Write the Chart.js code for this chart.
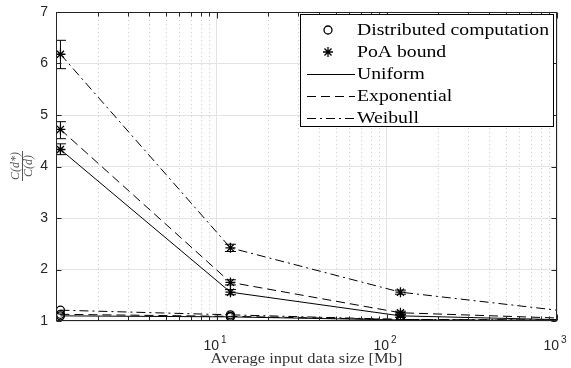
<!DOCTYPE html>
<html lang="sv">
<head>
<meta charset="utf-8">
<title>PoA-diagram</title>
<script src="https://cdn.jsdelivr.net/npm/chart.js@4.4.1/dist/chart.umd.min.js"></script>
<style>
  html, body { margin: 0; padding: 0; background: #fff; }
  #ruta { width: 571px; height: 368px; }
</style>
</head>
<body>
<div id="ruta"><canvas id="mittDiagram" width="571" height="368"></canvas></div>
<script>
// Data (x = genomsnittlig indatastorlek i Mb)
const storlekar = [1.2, 12, 120, 1200];

// PoA-gräns (asterisker) för de tre fördelningarna
const poaUniform = [4.33, 1.56, 1.10, 1.02];
const poaExponentiell = [4.72, 1.75, 1.16, 1.05];
const poaWeibull = [6.18, 2.42, 1.56, 1.18];

// Felstaplar för PoA-gränsen [lägsta, högsta]
const felUniform = [[4.23, 4.44], [1.51, 1.61], [1.07, 1.13], [1.00, 1.04]];
const felExponentiell = [[4.54, 4.87], [1.70, 1.80], [1.13, 1.19], [1.03, 1.07]];
const felWeibull = [[5.90, 6.45], [2.35, 2.49], [1.52, 1.60], [1.15, 1.21]];

// Distribuerad beräkning (cirklar)
const distUniform = [1.10, 1.08, 1.02, 1.01];
const distExponentiell = [1.13, 1.09, 1.03, 1.01];
const distWeibull = [1.21, 1.12, 1.03, 1.02];

// Axlar
const yEtiketter = [1, 2, 3, 4, 5, 6, 7];
const xExponenter = [1, 2, 3];
const xMin = 1.13;
const xMax = 1000;

// Legendens texter
const legendTexter = ['Distributed computation', 'PoA bound', 'Uniform', 'Exponential', 'Weibull'];

// Skapar ett Namespace för diagrammet
const MittDiagram = {};

MittDiagram.streck = {
    uniform: [],
    exponentiell: [9, 5],
    weibull: [9, 4, 2, 4]
};

MittDiagram.serif = '"Liberation Serif", "Times New Roman", serif';
MittDiagram.sans = '"Liberation Sans", Arial, sans-serif';

// Bygger {x, y}-par av en värdelista
MittDiagram.par = function(varden) {
    return varden.map((v, i) => ({ x: storlekar[i], y: v }));
};

MittDiagram.serie = function(varden, streck, markor, radie, fel) {
    return {
        data: MittDiagram.par(varden),
        borderColor: '#000',
        backgroundColor: 'rgba(0,0,0,0)',
        pointBorderColor: '#000',
        pointBackgroundColor: 'rgba(0,0,0,0)',
        borderWidth: 1,
        borderDash: streck,
        pointStyle: markor,
        pointRadius: radie,
        pointBorderWidth: 1.3,
        fill: false,
        tension: 0,
        fel: fel
    };
};

MittDiagram.arTiopotens = function(v) {
    const l = Math.log10(v);
    return Math.abs(l - Math.round(l)) < 1e-9;
};

// Alla logaritmiska små-/stora steg inom intervallet
MittDiagram.logSteg = function() {
    const ut = [];
    for (let e = 0; e <= 3; e++) {
        for (let m = 1; m <= 9; m++) {
            const v = m * Math.pow(10, e);
            if (v >= xMin && v <= xMax) ut.push(v);
        }
    }
    return ut;
};

// Skriver text som sträcks horisontellt till en given bredd (LaTeX-typsnittet är bredare)
MittDiagram.breddText = function(ctx, text, x, y, bredd, justering) {
    const w = ctx.measureText(text).width;
    const s = bredd / w;
    ctx.save();
    ctx.translate(x, y);
    ctx.scale(s, 1);
    ctx.textAlign = justering;
    ctx.fillText(text, 0, 0);
    ctx.restore();
};

// Plugin: prickat stödnät för små steg på x-axeln
MittDiagram.smaNat = {
    id: 'smaNat',
    beforeDatasetsDraw(chart) {
        const { ctx, chartArea: a, scales: { x } } = chart;
        ctx.save();
        ctx.strokeStyle = '#cdcdcd';
        ctx.lineWidth = 1;
        ctx.setLineDash([1, 3]);
        MittDiagram.logSteg().forEach(v => {
            if (MittDiagram.arTiopotens(v)) return;
            const px = Math.round(x.getPixelForValue(v)) + 0.5;
            ctx.beginPath();
            ctx.moveTo(px, a.top);
            ctx.lineTo(px, a.bottom);
            ctx.stroke();
        });
        ctx.restore();
    }
};

// Plugin: felstaplar
MittDiagram.felstaplar = {
    id: 'felstaplar',
    afterDatasetsDraw(chart) {
        const { ctx, chartArea: a, scales: { x, y } } = chart;
        ctx.save();
        ctx.beginPath();
        ctx.rect(a.left, a.top, a.right - a.left, a.bottom - a.top);
        ctx.clip();
        ctx.strokeStyle = '#000';
        ctx.lineWidth = 1;
        chart.data.datasets.forEach(ds => {
            if (!ds.fel) return;
            ds.fel.forEach((f, i) => {
                const px = x.getPixelForValue(storlekar[i]);
                const y0 = y.getPixelForValue(f[0]);
                const y1 = y.getPixelForValue(f[1]);
                ctx.beginPath();
                ctx.moveTo(px, y0); ctx.lineTo(px, y1);
                ctx.moveTo(px - 5.5, y0); ctx.lineTo(px + 5.5, y0);
                ctx.moveTo(px - 5.5, y1); ctx.lineTo(px + 5.5, y1);
                ctx.stroke();
            });
        });
        ctx.restore();
    }
};

// Plugin: ram, inåtriktade streck, etiketter, axeltitlar och legend
MittDiagram.ram = {
    id: 'ram',
    afterDraw(chart) {
        const { ctx, chartArea: a, scales: { x, y } } = chart;
        ctx.save();
        ctx.strokeStyle = '#262626';
        ctx.lineWidth = 1;
        ctx.setLineDash([]);
        const L = Math.round(a.left) + 0.5, R = Math.round(a.right) - 0.5;
        const T = Math.round(a.top) + 0.5, B = Math.round(a.bottom) - 0.5;
        ctx.strokeRect(L, T, R - L, B - T);

        // x-streck (nedre och övre kant)
        ctx.beginPath();
        MittDiagram.logSteg().forEach(v => {
            const px = Math.round(x.getPixelForValue(v)) + 0.5;
            const len = MittDiagram.arTiopotens(v) ? 6 : 4;
            ctx.moveTo(px, B); ctx.lineTo(px, B - len);
            ctx.moveTo(px, T); ctx.lineTo(px, T + len);
        });
        // y-streck (vänster och höger kant)
        yEtiketter.forEach(v => {
            const py = Math.round(y.getPixelForValue(v)) + 0.5;
            ctx.moveTo(L, py); ctx.lineTo(L + 5, py);
            ctx.moveTo(R, py); ctx.lineTo(R - 5, py);
        });
        ctx.stroke();

        // y-etiketter
        ctx.fillStyle = '#262626';
        ctx.font = '14px ' + MittDiagram.sans;
        ctx.textAlign = 'right';
        ctx.textBaseline = 'middle';
        yEtiketter.forEach(v => {
            ctx.fillText(String(v), a.left - 8, y.getPixelForValue(v));
        });

        // x-etiketter: 10 med exponent
        ctx.textBaseline = 'alphabetic';
        xExponenter.forEach(e => {
            const px = x.getPixelForValue(Math.pow(10, e));
            ctx.font = '14px ' + MittDiagram.sans;
            const bas = ctx.measureText('10').width;
            ctx.font = '10px ' + MittDiagram.sans;
            const exp = ctx.measureText(String(e)).width;
            const start = px - (bas + 2 + exp) / 2 - 2;
            ctx.textAlign = 'left';
            ctx.font = '14px ' + MittDiagram.sans;
            ctx.fillText('10', start, a.bottom + 29);
            ctx.font = '10px ' + MittDiagram.sans;
            ctx.fillText(String(e), start + bas + 2, a.bottom + 22);
        });

        // x-axelns titel
        ctx.fillStyle = '#333';
        ctx.font = '14px ' + MittDiagram.serif;
        MittDiagram.breddText(ctx, 'Average input data size [Mb]', (a.left + a.right) / 2, a.bottom + 42, 192, 'center');

        // y-axelns titel: bråket C(d*)/C(d), roterat
        ctx.save();
        ctx.translate(22, 166);
        ctx.rotate(-Math.PI / 2);
        ctx.fillStyle = '#555';
        ctx.strokeStyle = '#555';
        ctx.font = 'italic 12px ' + MittDiagram.serif;
        ctx.textAlign = 'center';
        ctx.fillText('C(d*)', 0, -3);
        ctx.fillText('C(d)', 0, 10);
        ctx.beginPath();
        ctx.moveTo(-15, 0.5); ctx.lineTo(15, 0.5);
        ctx.stroke();
        ctx.restore();

        MittDiagram.ritaLegend(ctx, a);
        ctx.restore();
    }
};

MittDiagram.ritaLegend = function(ctx, a) {
    const vx = 300, ox = 14, hx = 554, nx = 127;
    ctx.save();
    ctx.fillStyle = '#fff';
    ctx.fillRect(vx, ox, hx - vx, nx - ox);
    ctx.strokeStyle = '#000';
    ctx.lineWidth = 1;
    ctx.strokeRect(vx + 0.5, ox + 0.5, hx - vx - 1, nx - ox - 1);

    const rader = [30, 52, 74, 96, 118];
    const textX = 357;
    ctx.fillStyle = '#000';
    ctx.font = '16px ' + MittDiagram.serif;
    ctx.textBaseline = 'middle';
    // gemensam sträckfaktor så att den längsta raden blir lika bred som i originalet
    const s = 192 / ctx.measureText(legendTexter[0]).width;
    legendTexter.forEach((t, i) => {
        MittDiagram.breddText(ctx, t, textX, rader[i] + 1, ctx.measureText(t).width * s, 'left');
    });

    // markörer
    ctx.lineWidth = 1.3;
    ctx.beginPath();
    ctx.arc(328, rader[0], 4, 0, Math.PI * 2);
    ctx.stroke();
    const r = 5;
    ctx.beginPath();
    ctx.moveTo(328 - r, rader[1]); ctx.lineTo(328 + r, rader[1]);
    ctx.moveTo(328, rader[1] - r); ctx.lineTo(328, rader[1] + r);
    const d = r * 0.7071;
    ctx.moveTo(328 - d, rader[1] - d); ctx.lineTo(328 + d, rader[1] + d);
    ctx.moveTo(328 - d, rader[1] + d); ctx.lineTo(328 + d, rader[1] - d);
    ctx.stroke();

    // linjeprover
    ctx.lineWidth = 1;
    [MittDiagram.streck.uniform, MittDiagram.streck.exponentiell, MittDiagram.streck.weibull].forEach((st, i) => {
        ctx.setLineDash(st);
        ctx.beginPath();
        ctx.moveTo(307, rader[i + 2] + 0.5);
        ctx.lineTo(355, rader[i + 2] + 0.5);
        ctx.stroke();
    });
    ctx.restore();
};

MittDiagram.ctx = document.getElementById('mittDiagram').getContext('2d');

MittDiagram.mittDiagram = new Chart(MittDiagram.ctx, {
    type: 'line',
    data: {
        datasets: [
            MittDiagram.serie(distUniform, MittDiagram.streck.uniform, 'circle', 4, null),
            MittDiagram.serie(distExponentiell, MittDiagram.streck.exponentiell, 'circle', 4, null),
            MittDiagram.serie(distWeibull, MittDiagram.streck.weibull, 'circle', 4, null),
            MittDiagram.serie(poaUniform, MittDiagram.streck.uniform, 'star', 5, felUniform),
            MittDiagram.serie(poaExponentiell, MittDiagram.streck.exponentiell, 'star', 5, felExponentiell),
            MittDiagram.serie(poaWeibull, MittDiagram.streck.weibull, 'star', 5, felWeibull)
        ]
    },
    options: {
        responsive: false,
        animation: false,
        layout: { padding: { left: 56, right: 14, top: 12, bottom: 47 } },
        plugins: {
            legend: { display: false },
            tooltip: { enabled: false }
        },
        scales: {
            x: {
                type: 'logarithmic',
                min: xMin,
                max: xMax,
                ticks: { display: false },
                border: { display: false },
                grid: {
                    drawTicks: false,
                    color: (c) => (c.tick && MittDiagram.arTiopotens(c.tick.value)) ? '#e3e3e3' : 'rgba(0,0,0,0)'
                }
            },
            y: {
                min: 1,
                max: 7,
                ticks: { display: false, stepSize: 1 },
                border: { display: false },
                grid: { drawTicks: false, color: '#e3e3e3' }
            }
        }
    },
    plugins: [MittDiagram.smaNat, MittDiagram.felstaplar, MittDiagram.ram]
});
</script>
</body>
</html>
